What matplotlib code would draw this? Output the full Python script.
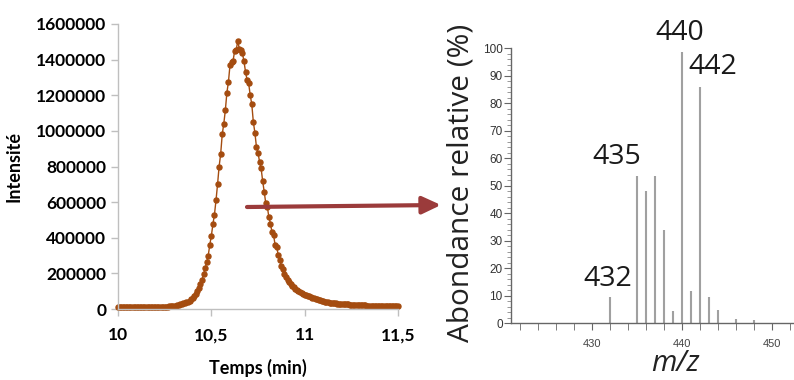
import numpy as np
import matplotlib.pyplot as plt
from matplotlib.ticker import MultipleLocator, FixedLocator

# --- chromatogram (time in min, intensity in thousands) ---
time_min = np.linspace(10, 11.5, 181)  # uniform acquisition grid
intensity_k = [
    10, 9, 10, 11, 10, 9, 10, 10, 11, 10, 9, 10, 10, 10, 11, 10, 10, 9, 10, 11,
    10, 10, 10, 11, 11, 12, 11, 12, 12, 13, 13, 14, 14, 15, 16, 17, 18, 19, 21, 23,
    26, 28, 31, 34, 38, 42, 47, 54, 62, 72, 84, 100, 118, 138, 163, 195, 228, 262, 300, 360,
    410, 475, 530, 610, 700, 800, 870, 980, 1040, 1115, 1215, 1275, 1370, 1385, 1395, 1450, 1455, 1505, 1460, 1455,
    1435, 1390, 1330, 1285, 1267, 1200, 1150, 1050, 990, 910, 877, 827, 790, 718, 658, 593, 574, 515, 480, 430,
    415, 360, 350, 303, 275, 243, 223, 196, 180, 165, 152, 140, 130, 122, 114, 106, 100, 95, 90, 85,
    80, 77, 74, 71, 68, 63, 60, 57, 55, 53, 48, 46, 44, 42, 40, 37, 36, 34, 33, 32,
    31, 30, 30, 29, 28, 27, 27, 26, 26, 25, 25, 24, 24, 23, 23, 22, 22, 21, 21, 20,
    19, 19, 19, 18, 18, 18, 17, 18, 17, 17, 17, 17, 16, 17, 17, 16, 17, 16, 17, 17,
    16,
]
intensity = np.array(intensity_k) * 1000

# --- mass spectrum ---
mz = [432, 435, 436, 437, 438, 439, 440, 441, 442, 443, 444, 446, 448]
abundance = [9.5, 53.7, 48.1, 53.7, 33.9, 4.5, 98.5, 11.9, 85.8, 9.7, 4.8, 1.5, 1.3]
peak_labels = {440: "440", 442: "442", 435: "435", 432: "432"}

brown = "#A44C10"
fig = plt.figure(figsize=(7.94, 3.8), dpi=100)

# left: chromatogram
ax = fig.add_axes([118/794, 1-309/380, 280/794, 285/380])
ax.plot(time_min, intensity, "-o", color=brown, lw=1, ms=3.6, mec=brown, clip_on=False)
ax.set_xlim(10, 11.5); ax.set_ylim(0, 1600000)
ax.set_xticks([10, 10.5, 11, 11.5])
ax.set_xticklabels(["10", "10,5", "11", "11,5"])
ax.yaxis.set_major_locator(MultipleLocator(200000))
ax.yaxis.set_major_formatter(plt.FuncFormatter(lambda v, p: f"{int(v)}"))
for s in ["top", "right"]:
    ax.spines[s].set_visible(False)
for s in ["left", "bottom"]:
    ax.spines[s].set_color("#bfbfbf"); ax.spines[s].set_linewidth(1)
ax.tick_params(colors="#bfbfbf", length=5, width=1, labelcolor="black")
for lab in ax.get_xticklabels() + ax.get_yticklabels():
    lab.set_fontfamily("Lato"); lab.set_fontweight("bold"); lab.set_fontsize(12.5)
ax.tick_params(axis="x", pad=8)
ax.set_xlabel("Temps (min)", fontfamily="Lato", fontweight="bold", fontsize=13)
ax.xaxis.set_label_coords(0.5, -0.175)
ax.set_ylabel("Intensité", fontfamily="Lato", fontweight="bold", fontsize=13, labelpad=10)

# right: mass spectrum
ax2 = fig.add_axes([511/794, 1-323.3/380, 283/794, 275/380])
ax2.vlines(mz, 0, abundance, colors="#a0a0a0", lw=1.5)
ax2.set_xlim(421, 452.4); ax2.set_ylim(0, 100)
for s in ["top", "right"]:
    ax2.spines[s].set_visible(False)
for s in ["left", "bottom"]:
    ax2.spines[s].set_color("#666666"); ax2.spines[s].set_linewidth(1)
ax2.xaxis.set_major_locator(FixedLocator([430, 440, 450]))
ax2.xaxis.set_minor_locator(MultipleLocator(2))
ax2.yaxis.set_major_locator(MultipleLocator(10))
ax2.yaxis.set_minor_locator(MultipleLocator(2))
ax2.tick_params(axis="x", which="both", direction="out", length=5, color="#666666",
                labelsize=8, labelcolor="#444444", pad=6)
ax2.tick_params(axis="y", which="major", length=5, color="#666666",
                labelsize=8.5, labelcolor="#333333", pad=1)
ax2.tick_params(axis="y", which="minor", length=3, color="#888888")
for lab in ax2.get_xticklabels() + ax2.get_yticklabels():
    lab.set_fontfamily("Liberation Sans")
ax2.set_ylabel("Abondance relative (%)", fontfamily="Open Sans", fontsize=21.5,
               color="#222222")
ax2.yaxis.set_label_coords(-0.125, 0.51)
ax2.set_xlabel("m/z", fontfamily="Open Sans", fontstyle="italic", fontsize=21,
               color="#222222")
ax2.xaxis.set_label_coords(0.58, -0.095)
label_pos = {440: (439.7, 105.6), 442: (443.4, 93.2), 435: (432.7, 60.5), 432: (431.7, 16.1)}
for m in mz:
    if m in peak_labels:
        lx, ly = label_pos[m]
        ax2.text(lx, ly, peak_labels[m], ha="center", va="center",
                 fontfamily="Open Sans", fontsize=20.5, color="#1a1a1a", clip_on=False)

# arrow between panels
ax.annotate("", xy=(441/794, 1-205/380), xytext=(247/794, 1-207/380),
            xycoords="figure fraction", textcoords="figure fraction",
            arrowprops=dict(arrowstyle="-|>,head_length=0.75,head_width=0.35",
                            mutation_scale=15, lw=3, color="#9B3B3B",
                            shrinkA=0, shrinkB=0))

fig.savefig("out.png", dpi=100)
